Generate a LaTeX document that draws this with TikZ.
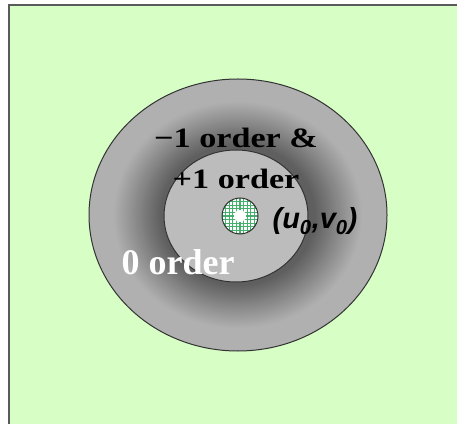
\documentclass[tikz,border=0pt]{standalone}
\usepackage{fontspec}
\usetikzlibrary{shapes.geometric}
\setmainfont{Liberation Serif}
\newfontfamily\labsans{Liberation Sans}
\definecolor{bggreen}{RGB}{214,254,197}
\definecolor{framegray}{RGB}{90,90,90}
\definecolor{gridgreen}{RGB}{70,175,110}
\definecolor{ringlight}{RGB}{176,176,176}
\definecolor{ringdark}{RGB}{95,95,95}
\definecolor{diskgray}{RGB}{188,188,188}
\tikzset{
  ordertext/.style={font=\bfseries\fontsize{28}{30}\selectfont, inner sep=0pt, anchor=base, transform shape, xscale=1.22},
  ellline/.style={draw=black!80, line width=1pt},
}
\begin{document}
\begin{tikzpicture}[x=1pt,y=1pt]
\useasboundingbox (0,0) rectangle (457,423);
\fill[white] (0,0) rectangle (457,423);
% background panel
\fill[bggreen] (9,-5) rectangle (470,418);
\draw[framegray, line width=2pt] (9,-5) -- (9,418) -- (470,418);
% outer ring with graded fill
\foreach \i in {0,...,45} {
  \pgfmathsetmacro{\s}{1-\i*0.012}
  \pgfmathsetmacro{\p}{max(0,min(100,(0.84-\s)/0.32*100))}
  \fill[ringdark!\p!ringlight] (238,208) ellipse [x radius={149*\s}, y radius={136*\s}];
}
\node[ellline, ellipse, minimum width=298pt, minimum height=272pt, inner sep=0pt] (outer) at (238,208) {};
% inner disk
\node[ellline, fill=diskgray, ellipse, minimum width=144pt, minimum height=132pt, inner sep=0pt] (inner) at (236,207) {};
% small hatched circle
\begin{scope}
  \clip (240,207) circle (18);
  \fill[white] (240,207) circle (18);
  \foreach \d in {-18,-14.4,...,18} {
    \draw[gridgreen, line width=1.1pt] (240+\d,189) -- (240+\d,225);
    \draw[gridgreen, line width=1.1pt] (222,207+\d) -- (258,207+\d);
  }
  \fill[white] (240,207) circle (6);
\end{scope}
\node[draw=black!80, line width=1pt, circle, minimum size=36pt, inner sep=0pt] (spot) at (240,207) {};
% labels
\node[ordertext] (m1) at (236,275) {−1 order \&};
\node[ordertext] (p1) at (236,234) {+1 order};
\node[font=\bfseries\fontsize{36}{40}\selectfont, inner sep=0pt, anchor=base, text=white] (z0) at (178,148) {0 order};
\node[inner sep=0pt, anchor=base, font=\labsans\bfseries\itshape\fontsize{29}{32}\selectfont] (uv) at (315,194) {(\textit{u}\textsubscript{0},\textit{v}\textsubscript{0})};
\end{tikzpicture}
\end{document}
